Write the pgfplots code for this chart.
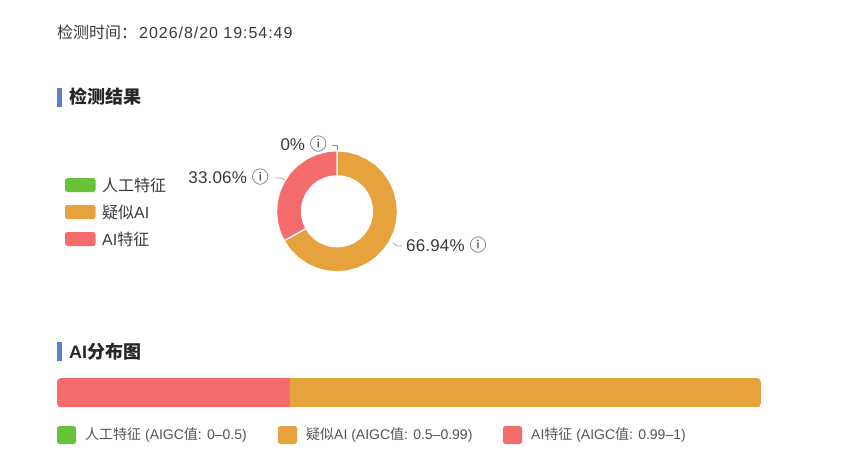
\documentclass[border=0pt]{standalone}
\usepackage{pgfplots}
\usepackage{fontspec}
\pgfplotsset{compat=1.18}
\usepgfplotslibrary{polar}
\setmainfont{Liberation Sans}
\newfontfamily\cjk{Noto Sans CJK SC}
\newfontfamily\spaced[LetterSpace=6]{Liberation Sans}
\definecolor{cgreen}{HTML}{67C23A}
\definecolor{corange}{HTML}{E6A23C}
\definecolor{cred}{HTML}{F56C6C}
\definecolor{cblue}{HTML}{5B7EC8}
\definecolor{ctxt}{HTML}{3A3A3A}
\definecolor{cleg}{HTML}{555555}
\definecolor{clead}{HTML}{A0A0A0}
\newcommand{\fs}[1]{\fontsize{#1}{#1}\selectfont}
\begin{document}
\begin{tikzpicture}[x=1pt,y=1pt]
\begin{axis}[name=page,at={(0pt,0pt)},anchor=south west,scale only axis,width=854pt,height=455pt,
 xmin=0,xmax=854,ymin=0,ymax=455,y dir=reverse,hide axis,clip=false]
\path[fill=white] (axis cs:0,0) rectangle (axis cs:854,455);
% header
\node[anchor=west,inner sep=0,text=ctxt] at (axis cs:57,32) {\fs{16}{\cjk 检测时间：}\hspace{2pt}{\spaced 2026/8/20 19:54:49}};
% section titles
\fill[cblue] (axis cs:57,88) rectangle (axis cs:62,107);
\node[anchor=west,inner sep=0,text=black!85] at (axis cs:69,97) {\fs{18}\cjk\bfseries 检测结果};
\fill[cblue] (axis cs:57,342) rectangle (axis cs:62,361);
\node[anchor=west,inner sep=0,text=black!85] at (axis cs:69,352) {\fs{18}\bfseries AI{\cjk 分布图}};
% top legend
\fill[cgreen,rounded corners=2.5pt] (axis cs:65,178) rectangle (axis cs:95.5,192);
\fill[corange,rounded corners=2.5pt] (axis cs:65,205) rectangle (axis cs:95.5,219);
\fill[cred,rounded corners=2.5pt] (axis cs:65,232) rectangle (axis cs:95.5,246);
\node[anchor=west,inner sep=0,text=ctxt] at (axis cs:102,185) {\fs{16}\cjk 人工特征};
\node[anchor=west,inner sep=0,text=ctxt] at (axis cs:102,212) {\fs{16}{\cjk 疑似}AI};
\node[anchor=west,inner sep=0,text=ctxt] at (axis cs:102,239) {\fs{16}AI{\cjk 特征}};
% donut labels
\node[anchor=east,inner sep=0,text=ctxt] at (axis cs:327,144) {\fs{17}0\% {\cjk ⓘ}};
\node[anchor=east,inner sep=0,text=ctxt] at (axis cs:269,177.5) {\fs{17}\addfontfeature{LetterSpace=1}33.06\% {\cjk ⓘ}};
\node[anchor=west,inner sep=0,text=ctxt] at (axis cs:406,245.5) {\fs{17}\addfontfeature{LetterSpace=1}66.94\% {\cjk ⓘ}};
\draw[cgreen!70!gray,line width=.7pt] (axis cs:332,145) -- (axis cs:337,145) -- (axis cs:337,150);
\draw[clead,line width=.7pt] (axis cs:275,178) -- (axis cs:281,178) -- (axis cs:285,180);
\draw[clead,line width=.7pt] (axis cs:393,243) -- (axis cs:397,246) -- (axis cs:402,246);
% bottom legend
\fill[cgreen,rounded corners=2.5pt] (axis cs:57,426) rectangle (axis cs:76,444);
\fill[corange,rounded corners=2.5pt] (axis cs:278,426) rectangle (axis cs:297,444);
\fill[cred,rounded corners=2.5pt] (axis cs:503,426) rectangle (axis cs:522,444);
\node[anchor=west,inner sep=0,text=cleg] at (axis cs:85,435) {\fs{14}{\cjk 人工特征} (AIGC{\cjk 值}: 0--0.5)};
\node[anchor=west,inner sep=0,text=cleg] at (axis cs:306,435) {\fs{14}{\cjk 疑似}AI (AIGC{\cjk 值}: 0.5--0.99)};
\node[anchor=west,inner sep=0,text=cleg] at (axis cs:531,435) {\fs{14}AI{\cjk 特征} (AIGC{\cjk 值}: 0.99--1)};
\end{axis}
% donut: slices of 66.94 and 33.06 percent, clockwise from the top
\begin{polaraxis}[at={(337pt,243.7pt)},anchor=origin,scale only axis,width=122pt,height=122pt,
 ymin=0,ymax=61,xmin=0,xmax=360,hide axis,clip=false]
\addplot[fill=corange,draw=white,line width=1.2pt] coordinates {
(90,60.5)(80,60.5)(70,60.5)(60,60.5)(50,60.5)(40,60.5)(30,60.5)(20,60.5)(10,60.5)(0,60.5)
(-10,60.5)(-20,60.5)(-30,60.5)(-40,60.5)(-50,60.5)(-60,60.5)(-70,60.5)(-80,60.5)(-90,60.5)
(-100,60.5)(-110,60.5)(-120,60.5)(-130,60.5)(-140,60.5)(-150.98,60.5)
(-150.98,35.5)(-140,35.5)(-130,35.5)(-120,35.5)(-110,35.5)(-100,35.5)(-90,35.5)(-80,35.5)
(-70,35.5)(-60,35.5)(-50,35.5)(-40,35.5)(-30,35.5)(-20,35.5)(-10,35.5)(0,35.5)(10,35.5)
(20,35.5)(30,35.5)(40,35.5)(50,35.5)(60,35.5)(70,35.5)(80,35.5)(90,35.5)} -- cycle;
\addplot[fill=cred,draw=white,line width=1.2pt] coordinates {
(-150.98,60.5)(-160,60.5)(-170,60.5)(-180,60.5)(-190,60.5)(-200,60.5)(-210,60.5)(-220,60.5)
(-230,60.5)(-240,60.5)(-250,60.5)(-260,60.5)(-270,60.5)
(-270,35.5)(-260,35.5)(-250,35.5)(-240,35.5)(-230,35.5)(-220,35.5)(-210,35.5)(-200,35.5)
(-190,35.5)(-180,35.5)(-170,35.5)(-160,35.5)(-150.98,35.5)} -- cycle;
\end{polaraxis}
% distribution bar
\begin{scope}
\clip[rounded corners=4pt] (57pt,47.5pt) rectangle (761pt,77pt);
\begin{axis}[at={(57pt,47.5pt)},anchor=south west,scale only axis,width=704pt,height=29.5pt,
 xmin=0,xmax=100,ymin=-0.5,ymax=0.5,hide axis,xbar stacked,bar width=29.5pt,bar shift=0pt]
\addplot[fill=cred,draw=none] coordinates {(33.06,0)};
\addplot[fill=corange,draw=none] coordinates {(66.94,0)};
\end{axis}
\end{scope}
\end{tikzpicture}
\end{document}
